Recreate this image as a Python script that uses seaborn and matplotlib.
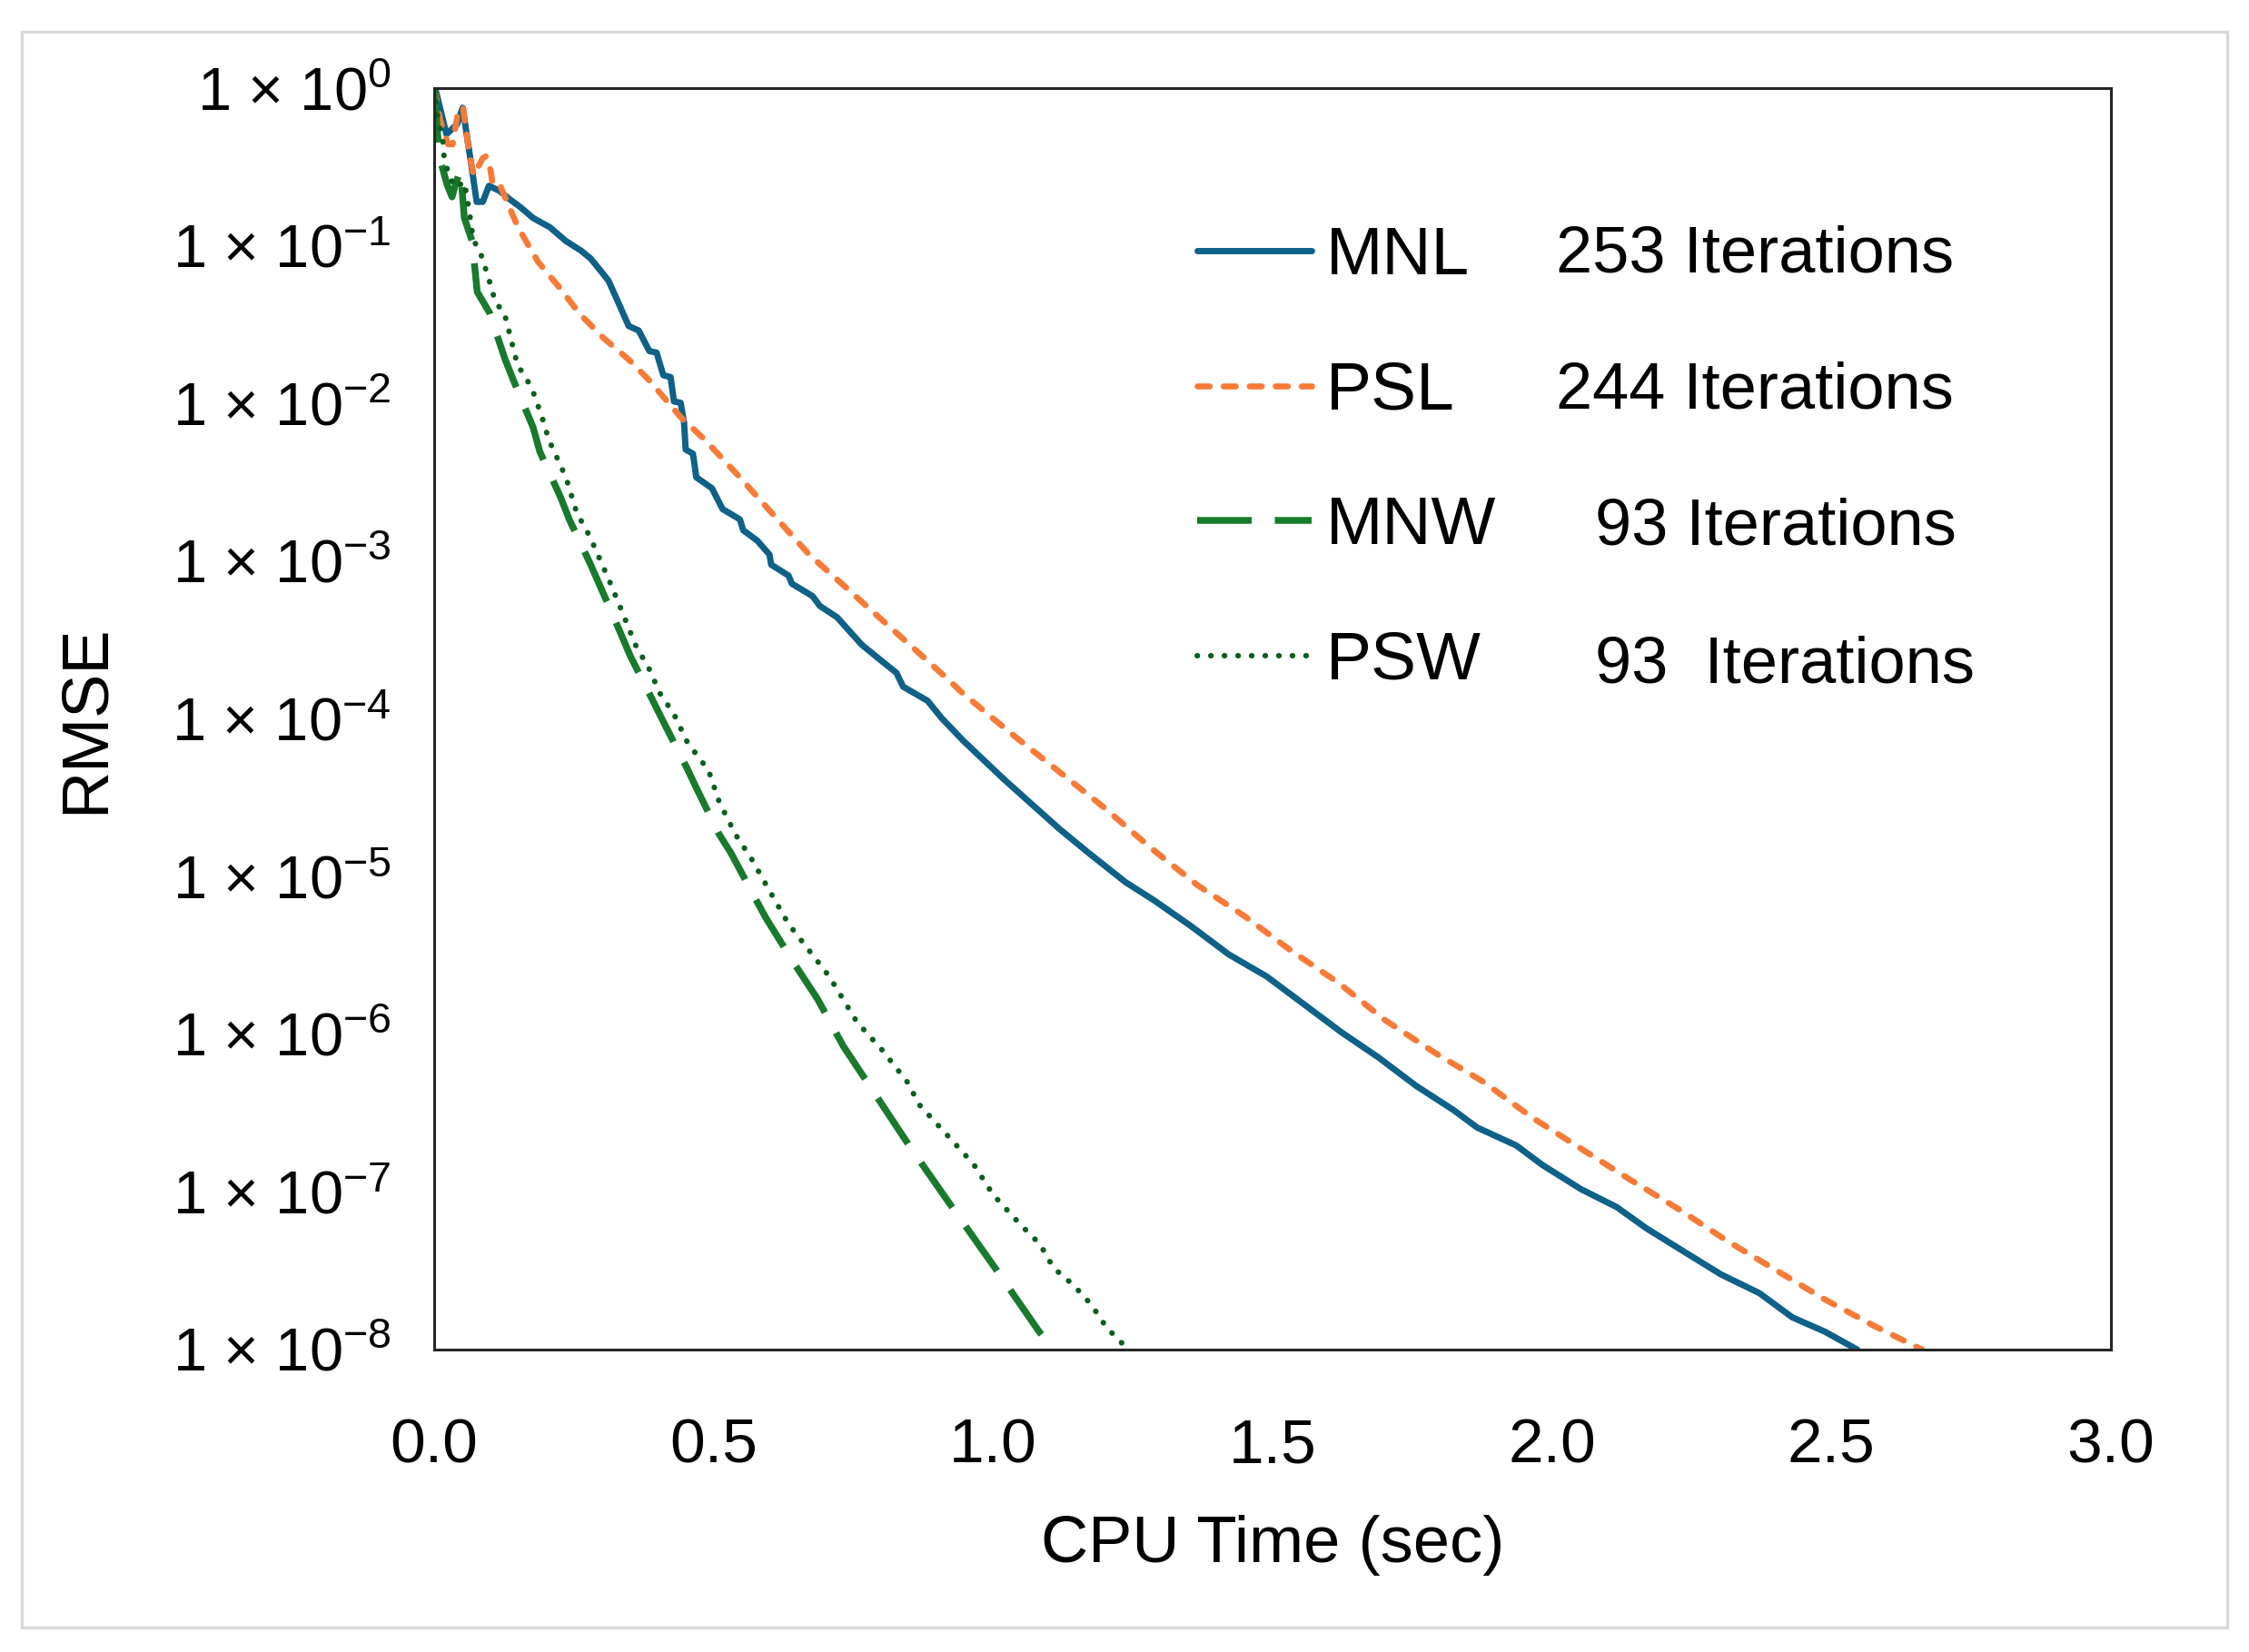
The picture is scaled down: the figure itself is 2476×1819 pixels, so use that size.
import pandas as pd
import matplotlib
matplotlib.use("Agg")
import matplotlib.pyplot as plt
from matplotlib.patches import Rectangle
from matplotlib.ticker import NullLocator
import seaborn as sns

# Convergence data (CPU time in sec, RMSE)
mnl_time = [0.000, 0.003, 0.022, 0.041, 0.051, 0.068, 0.076, 0.087, 0.098, 0.117,
            0.133, 0.155, 0.177, 0.207, 0.236, 0.263, 0.280, 0.297, 0.312, 0.329,
            0.348, 0.366, 0.385, 0.398, 0.410, 0.423, 0.429, 0.441, 0.447, 0.450,
            0.463, 0.469, 0.497, 0.516, 0.547, 0.553, 0.578, 0.600, 0.603, 0.634,
            0.640, 0.677, 0.690, 0.721, 0.765, 0.796, 0.827, 0.839, 0.883, 0.908,
            0.946, 1.019, 1.069, 1.119, 1.170, 1.237, 1.287, 1.354, 1.422, 1.489,
            1.556, 1.623, 1.690, 1.757, 1.824, 1.866, 1.936, 1.983, 2.052, 2.116,
            2.168, 2.226, 2.302, 2.371, 2.430, 2.488, 2.546]
mnl_rmse = [1.0, 0.96, 0.51, 0.59, 0.75, 0.30, 0.19, 0.19, 0.24, 0.223,
            0.20, 0.175, 0.150, 0.131, 0.107, 0.093, 0.083, 0.070, 0.060, 0.044,
            0.031, 0.029, 0.0215, 0.021, 0.0151, 0.0147, 0.0103, 0.0101, 0.0076, 0.0051,
            0.0048, 0.0034, 0.0029, 0.00214, 0.00184, 0.00157, 0.00135, 0.00110, 0.00095, 0.00081,
            0.00072, 0.00060, 0.00052, 0.00044, 2.95e-4, 2.4e-4, 1.96e-4, 1.6e-4, 1.3e-4, 1.01e-4,
            7.3e-5, 4.15e-5, 2.88e-5, 2.0e-5, 1.42e-5, 9.2e-6, 7.1e-6, 4.85e-6, 3.2e-6, 2.33e-6,
            1.55e-6, 1.03e-6, 7.1e-7, 4.7e-7, 3.3e-7, 2.56e-7, 1.97e-7, 1.48e-7, 1.04e-7, 8.0e-8,
            5.9e-8, 4.4e-8, 3.0e-8, 2.28e-8, 1.6e-8, 1.3e-8, 1.0e-8]

psl_time = [0.000, 0.011, 0.025, 0.033, 0.044, 0.052, 0.063, 0.071, 0.087, 0.093,
            0.101, 0.104, 0.114, 0.122, 0.150, 0.186, 0.223, 0.261, 0.304, 0.348,
            0.385, 0.441, 0.484, 0.547, 0.609, 0.671, 0.733, 0.796, 0.858, 0.920,
            0.946, 1.030, 1.114, 1.198, 1.282, 1.366, 1.450, 1.534, 1.617, 1.701,
            1.791, 1.878, 1.965, 2.052, 2.139, 2.226, 2.313, 2.400, 2.488, 2.575,
            2.662]
psl_rmse = [1.0, 0.62, 0.44, 0.44, 0.75, 0.74, 0.38, 0.28, 0.36, 0.37,
            0.30, 0.255, 0.26, 0.223, 0.131, 0.079, 0.055, 0.0368, 0.0258, 0.0190,
            0.0140, 0.0082, 0.0059, 0.0034, 0.00193, 0.00110, 0.00070, 0.00044, 0.00028, 1.77e-4,
            1.45e-4, 8.2e-5, 4.75e-5, 2.75e-5, 1.52e-5, 8.8e-6, 5.6e-6, 3.37e-6, 2.13e-6, 1.23e-6,
            7.6e-7, 4.97e-7, 2.95e-7, 1.88e-7, 1.2e-7, 7.8e-8, 4.9e-8, 3.2e-8, 2.08e-8, 1.42e-8,
            1.0e-8]

mnw_time = [0.000, 0.0065, 0.013, 0.023, 0.032, 0.038, 0.047, 0.054, 0.068, 0.077,
            0.099, 0.127, 0.143, 0.177, 0.189, 0.226, 0.242, 0.280, 0.298, 0.332,
            0.351, 0.391, 0.410, 0.452, 0.469, 0.510, 0.531, 0.576, 0.593, 0.643,
            0.686, 0.732, 0.781, 0.854, 0.930, 1.006, 1.081, 1.111]
mnw_rmse = [1.0, 0.49, 0.33, 0.245, 0.204, 0.244, 0.30, 0.150, 0.107, 0.051,
            0.0377, 0.0190, 0.0137, 0.00706, 0.00495, 0.00255, 0.00183, 0.00095, 0.00068, 0.00036,
            0.00025, 1.31e-4, 9.6e-5, 4.9e-5, 3.65e-5, 1.85e-5, 1.41e-5, 7.1e-6, 5.5e-6, 2.85e-6,
            1.67e-6, 8.4e-7, 4.6e-7, 1.87e-7, 7.7e-8, 3.2e-8, 1.32e-8, 9.7e-9]

psw_time = [0.000, 0.0065, 0.016, 0.017, 0.026, 0.038, 0.054, 0.063, 0.070, 0.082,
            0.096, 0.110, 0.125, 0.137, 0.149, 0.174, 0.192, 0.205, 0.236, 0.255,
            0.279, 0.298, 0.317, 0.335, 0.360, 0.385, 0.404, 0.429, 0.453, 0.491,
            0.510, 0.539, 0.568, 0.601, 0.634, 0.668, 0.707, 0.756, 0.802, 0.848,
            0.867, 0.916, 0.965, 1.000, 1.049, 1.084, 1.108, 1.144, 1.176, 1.203,
            1.236, 1.245]
psw_rmse = [1.0, 0.645, 0.45, 0.38, 0.28, 0.233, 0.255, 0.164, 0.109, 0.092,
            0.0646, 0.0434, 0.038, 0.026, 0.0176, 0.0127, 0.0084, 0.0059, 0.00338, 0.00203,
            0.00142, 0.00100, 0.00070, 0.00049, 2.95e-4, 2.06e-4, 1.45e-4, 1.07e-4, 7.1e-5, 4.7e-5,
            2.97e-5, 1.85e-5, 1.29e-5, 8.0e-6, 5.0e-6, 3.5e-6, 2.32e-6, 1.2e-6, 7.9e-7, 4.9e-7,
            3.6e-7, 2.33e-7, 1.5e-7, 9.6e-8, 6.2e-8, 4.65e-8, 3.3e-8, 2.56e-8, 1.92e-8, 1.38e-8,
            1.05e-8, 9.5e-9]

methods = ["MNL", "PSL", "MNW", "PSW"]
iterations = ["253 Iterations", "244 Iterations", "93 Iterations", "93  Iterations"]
x_ticks = [0.0, 0.5, 1.0, 1.5, 2.0, 2.5, 3.0]
y_exponents = [0, -1, -2, -3, -4, -5, -6, -7, -8]

sns.set_theme(style="white")
plt.rcParams["font.family"] = ["Liberation Sans", "DejaVu Sans"]
plt.rcParams["text.color"] = "black"
plt.rcParams["mathtext.fontset"] = "custom"
plt.rcParams["mathtext.rm"] = "Liberation Sans"
plt.rcParams["mathtext.it"] = "Liberation Sans:italic"
plt.rcParams["mathtext.bf"] = "Liberation Sans:bold"

fig = plt.figure(figsize=(24.76, 18.19), dpi=100)
fig.patch.set_facecolor("white")
ax = fig.add_axes([0.19305, 0.18307, 0.74556, 0.7636])

series = [
    (mnl_time, mnl_rmse, "#0E6188", dict(linewidth=5.0, linestyle="-")),
    (psl_time, psl_rmse, "#F77B38", dict(linewidth=4.8, linestyle=(0, (2.0, 2.3)), dash_capstyle="round")),
    (mnw_time, mnw_rmse, "#187A2C", dict(linewidth=5.4, linestyle=(0, (8, 3.4)))),
    (psw_time, psw_rmse, "#0B5E20", dict(linewidth=4.4, linestyle=(0, (0.05, 2.4)), dash_capstyle="round")),
]
for name, (t, r, color, style) in zip(methods, series):
    df = pd.DataFrame({"time": t, "rmse": r})
    sns.lineplot(data=df, x="time", y="rmse", ax=ax, color=color, sort=False,
                 estimator=None, label=name, legend=False, **style)

ax.set_yscale("log")
ax.set_xlim(0, 3)
ax.set_ylim(1e-8, 1)
ax.set_xticks(x_ticks)
ax.set_xticklabels([f"{v:.1f}" for v in x_ticks])
ax.set_yticks([10.0 ** e for e in y_exponents])
ax.set_yticklabels([rf"1 × $\mathregular{{10^{{{e}}}}}$" for e in y_exponents])
ax.yaxis.set_minor_locator(NullLocator())
ax.tick_params(axis="x", length=0, pad=54, labelsize=50, colors="black")
ax.tick_params(axis="y", length=0, pad=34, labelsize=48, colors="black")

for side in ax.spines.values():
    side.set_color("#262626")
    side.set_linewidth(2.2)
ax.grid(False)

ax.set_xlabel("CPU Time (sec)", fontsize=52, va="center", color="black")
ax.set_ylabel("RMSE", fontsize=52, va="center", color="black")
ax.xaxis.set_label_coords(0.5, -0.155)
ax.yaxis.set_label_coords(-0.2075, 0.5)

handles = ax.get_lines()[:4]
ax.legend(handles, methods, loc="upper left", bbox_to_anchor=(0.4553, 0.891),
          frameon=False, fontsize=54, handlelength=1.68, handletextpad=0.21,
          labelspacing=1.06, borderpad=0, borderaxespad=0, labelcolor="black")

iter_x = [0.669, 0.669, 0.6922, 0.6922]
iter_y = [0.8675, 0.7595, 0.6515, 0.5424]
for label, xx, yy in zip(iterations, iter_x, iter_y):
    ax.text(xx, yy, label, transform=ax.transAxes, fontsize=52, va="center", ha="left",
            color="black")

# light grey frame around the whole picture
fig.patches.append(Rectangle((0.0097, 0.0148), 0.9806, 0.9659, transform=fig.transFigure,
                             fill=False, edgecolor="#D9D9D9", linewidth=2.5))

fig.savefig("out.png", dpi=100)
